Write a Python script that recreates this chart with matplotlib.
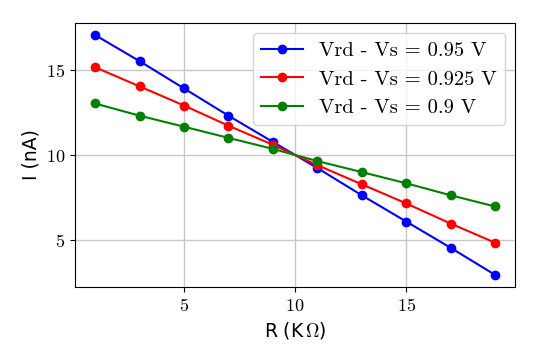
import numpy as np
import matplotlib
matplotlib.use('Agg')
import matplotlib.pyplot as plt
from matplotlib.ticker import FuncFormatter

plt.rcParams['mathtext.fontset'] = 'cm'
plt.rcParams['axes.formatter.use_mathtext'] = True

R = [1, 3, 5, 7, 9, 11, 13, 15, 17, 19]
i_095 = [17.08, 15.54, 13.93, 12.32, 10.77, 9.23, 7.62, 6.07, 4.52, 2.92]
i_0925 = [15.18, 14.05, 12.92, 11.73, 10.6, 9.4, 8.27, 7.14, 5.95, 4.82]
i_09 = [13.04, 12.32, 11.67, 11.01, 10.36, 9.64, 8.99, 8.33, 7.62, 6.96]
labels = ['Vrd - Vs = 0.95 V', 'Vrd - Vs = 0.925 V', 'Vrd - Vs = 0.9 V']
colors = ['blue', 'red', 'green']

fig = plt.figure(figsize=(5.4, 3.6), dpi=100)
ax = fig.add_axes([0.139, 0.203, 0.815, 0.733])
for y, lab, c in zip([i_095, i_0925, i_09], labels, colors):
	ax.plot(R, y, '-o', color=c, label=lab, linewidth=1.5, markersize=6)

ax.grid(True, color='#c8c8c8', linewidth=1.0)
ax.set_axisbelow(True)
ax.set_xticks([5, 10, 15])
ax.set_yticks([5, 10, 15])
ax.xaxis.set_major_formatter(FuncFormatter(lambda v, p: r'$%d$' % v))
ax.yaxis.set_major_formatter(FuncFormatter(lambda v, p: r'$%d$' % v))
ax.tick_params(labelsize=13)
ax.set_xlabel(r'R (K$\,\Omega$)', fontsize=13.5)
ax.set_ylabel('I (nA)', fontsize=13.5)
ax.legend(loc='upper right', prop={'family': 'cmr10', 'size': 14.8})

fig.savefig('out.png', dpi=100)
